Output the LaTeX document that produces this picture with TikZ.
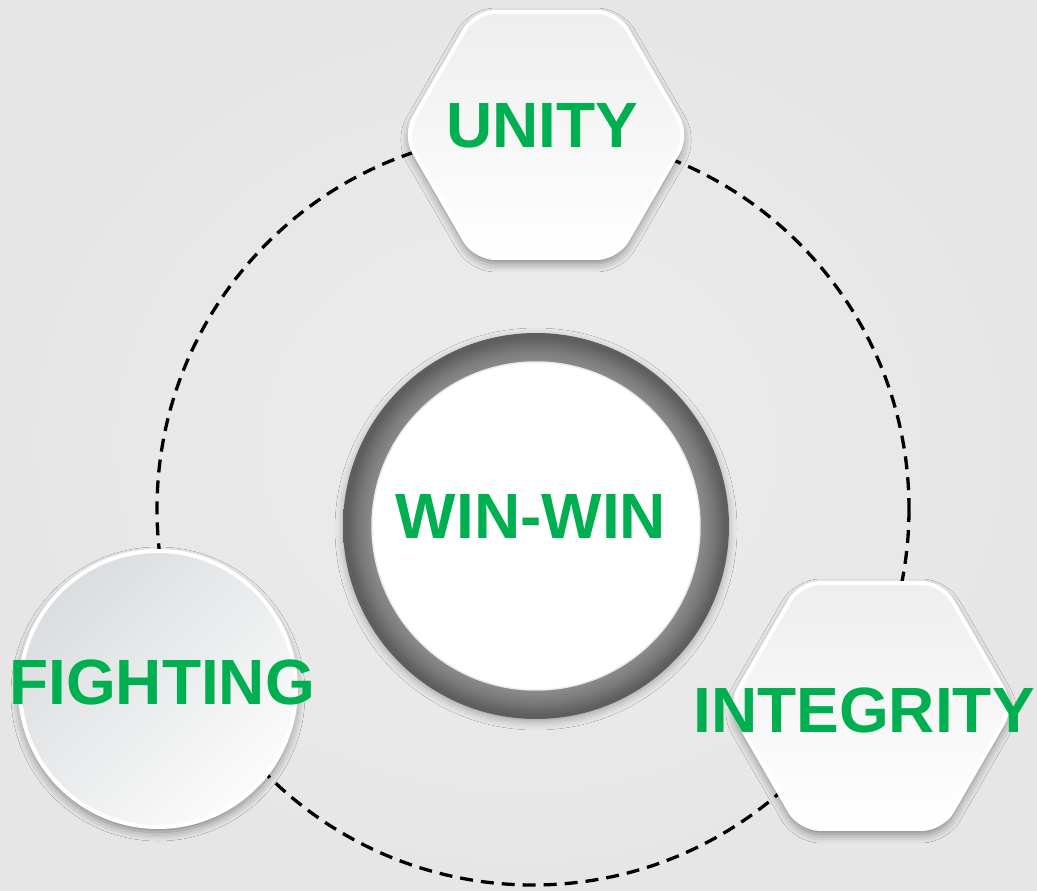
\documentclass[tikz,border=0pt]{standalone}
\usepackage{fontspec}
\setmainfont{Liberation Sans}
\usetikzlibrary{shapes.geometric,shadows.blur}
\definecolor{bgcol}{HTML}{EDEDED}
\definecolor{bgedge}{HTML}{E6E6E6}
\definecolor{txtgreen}{HTML}{00B050}
\definecolor{hextop}{HTML}{EEEEEE}
\definecolor{circtop}{HTML}{DADDDF}
\definecolor{ringdark}{HTML}{5E5E5E}
\definecolor{ringmid}{HTML}{7A7A7A}
\definecolor{ringlight}{HTML}{8E8E8E}
\pgfdeclareradialshading{ringshade}{\pgfpoint{0bp}{0bp}}{color(0bp)=(ringlight); color(21bp)=(ringlight); color(22.8bp)=(ringmid); color(24.5bp)=(ringdark); color(25bp)=(ringdark); color(50bp)=(ringdark)}
\tikzset{
  dashring/.style={draw=black, line width=3.3pt, dash pattern=on 13pt off 8pt},
  hexa/.style={regular polygon, regular polygon sides=6, minimum size=284pt, inner sep=0pt,
    rounded corners=20pt, top color=hextop, bottom color=white, draw=white, line width=4pt,
    blur shadow={shadow xshift=0pt, shadow yshift=-5pt, shadow blur radius=9pt, shadow opacity=45}},
  disc/.style={circle, minimum size=276pt, inner sep=0pt, shading=axis, top color=circtop,
    bottom color=white!97!gray, shading angle=45, draw=white, line width=4pt,
    blur shadow={shadow xshift=0pt, shadow yshift=-5pt, shadow blur radius=9pt, shadow opacity=45}},
  ringnode/.style={circle, minimum size=386pt, inner sep=0pt, shading=ringshade,
    blur shadow={shadow xshift=0pt, shadow yshift=-3pt, shadow blur radius=8pt, shadow opacity=30}},
  corenode/.style={circle, minimum size=328pt, inner sep=0pt, fill=white, draw=black!8, line width=1.5pt},
  lbl/.style={font=\fontsize{64}{64}\selectfont\bfseries, text=txtgreen, inner sep=0pt}
}
\begin{document}
\begin{tikzpicture}[x=1pt,y=-1pt]
\useasboundingbox (0,0) rectangle (1037,891);
\fill[inner color=bgcol, outer color=bgedge] (0,0) rectangle (1037,891);
\coordinate (c) at (533,509);
\draw[dashring] (c) circle[radius=376];
\node[ringnode] (ring) at (536,526) {};
\node[corenode] (core) at (ring.center) {};
\node[hexa] (unity) at (546,135) {};
\node[hexa] (integrity) at (871,706) {};
\node[disc] (fighting) at (158,689) {};
\node[lbl] (unityt) at (542,126) {UNITY};
\node[lbl] (wint) at (531,516) {WIN-WIN};
\node[lbl] (integrityt) at (864,710) {INTEGRITY};
\node[lbl] (fightingt) at (162,682) {FIGHTING};
\end{tikzpicture}
\end{document}
